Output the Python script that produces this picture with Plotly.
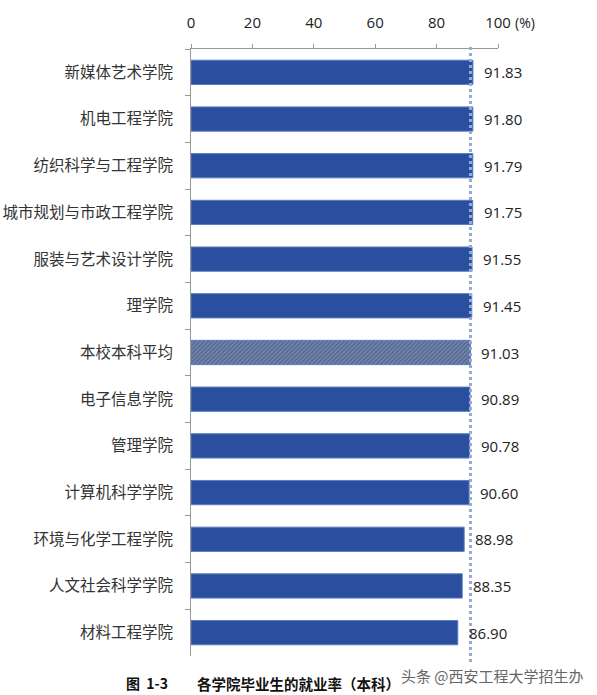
import plotly.graph_objects as go

colleges = ["新媒体艺术学院", "机电工程学院", "纺织科学与工程学院", "城市规划与市政工程学院",
            "服装与艺术设计学院", "理学院", "本校本科平均", "电子信息学院", "管理学院",
            "计算机科学学院", "环境与化学工程学院", "人文社会科学学院", "材料工程学院"]
rates = [91.83, 91.80, 91.79, 91.75, 91.55, 91.45, 91.03, 90.89, 90.78, 90.60, 88.98, 88.35, 86.90]
avg_name = "本校本科平均"
avg_rate = 91.03
x_ticks = [0, 20, 40, 60, 80, 100]

W, H = 597, 695
L, R, T, B = 191, 99, 47, 39

blue = "#2A4F9F"
colors = ["#7088BD" if c == avg_name else blue for c in colleges]
shapes = ["/" if c == avg_name else "" for c in colleges]

fig = go.Figure()
fig.add_trace(go.Bar(
    y=colleges, x=rates, orientation="h",
    marker=dict(color=colors, line=dict(color="#5A7CC0", width=1),
                pattern=dict(shape=shapes, fgcolor="#31549F", bgcolor="#C3D0EC", size=3, solidity=0.5)),
    width=0.52, hoverinfo="skip",
))

# value labels
for c, v in zip(colleges, rates):
    fig.add_annotation(x=v, y=c, text=f"{v:.2f}", xanchor="left", xshift=9, showarrow=False,
                       font=dict(family="Open Sans", size=15, color="#222"))

# average dotted line
fig.add_shape(type="line", x0=avg_rate, x1=avg_rate, y0=-0.01, y1=1.005, yref="paper",
              line=dict(color="#93AAD3", width=3, dash="dot"))

fig.add_annotation(x=100, y=1, xref="x", yref="paper", text="(%)", xanchor="left", yanchor="bottom",
                   xshift=15, yshift=15, showarrow=False, font=dict(family="Open Sans", size=14, color="#222"))


def px_note(text, px, py, size, color):
    fig.add_annotation(text=text, xref="paper", yref="paper",
                       x=(px - L) / (W - L - R), y=(H - B - py) / (H - T - B),
                       xanchor="left", yanchor="middle", showarrow=False,
                       font=dict(family="Noto Sans CJK SC", size=size, color=color))


px_note("<b>图  1-3</b>", 124, 683, 14, "#111")
px_note("<b>各学院毕业生的就业率（本科）</b>", 195, 684, 14.5, "#111")
px_note("头条 @西安工程大学招生办", 399, 676, 15, "#666")

fig.update_layout(
    width=W, height=H, margin=dict(l=L, r=R, t=T, b=B),
    plot_bgcolor="white", paper_bgcolor="white", showlegend=False,
    xaxis=dict(side="top", range=[0, 100], tickvals=x_ticks, showgrid=False, zeroline=False,
               showline=True, linecolor="#999", linewidth=1, ticks="outside", ticklen=4, tickcolor="#999",
               ticklabelstandoff=10,
               tickfont=dict(family="Open Sans", size=15, color="#222")),
    yaxis=dict(autorange="reversed", showgrid=False, showline=True, linecolor="#999", linewidth=1,
               ticks="outside", tickson="boundaries", ticklen=5, tickcolor="#999", automargin=False,
               ticklabelstandoff=14,
               tickfont=dict(family="Noto Sans CJK SC", size=15.5, color="#333")),
)

fig.write_html("out.html", config={"displayModeBar": False})

# drop the browser's default body margin so the figure sits at the page corner
with open("out.html", encoding="utf-8") as f:
    page = f.read()
page = page.replace("<body>", '<body style="margin:0">', 1)
with open("out.html", "w", encoding="utf-8") as f:
    f.write(page)
